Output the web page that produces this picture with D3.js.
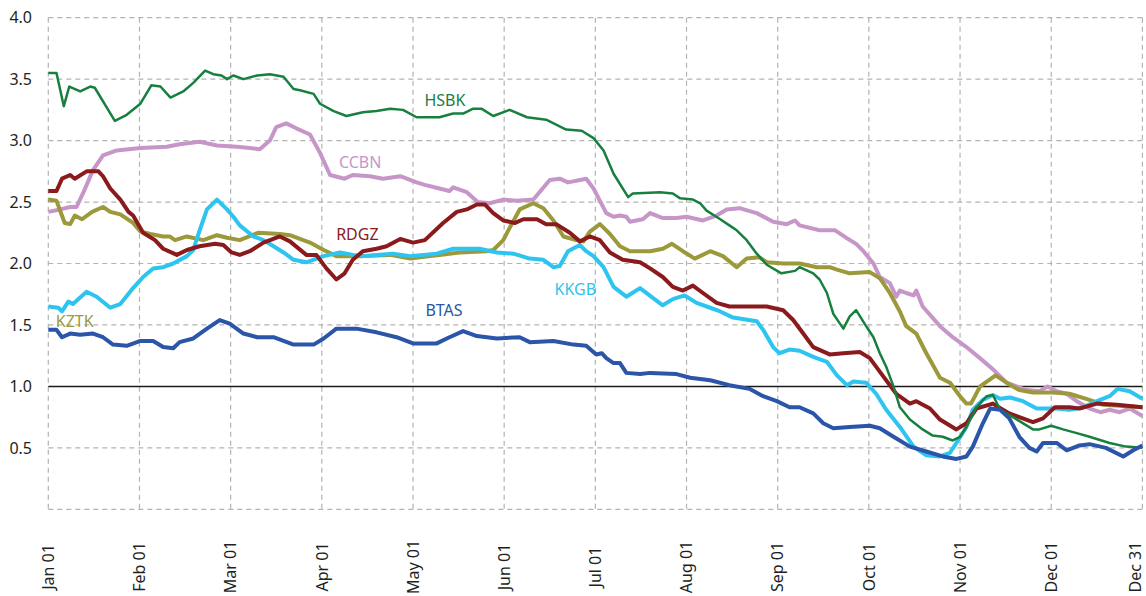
<!DOCTYPE html>
<html>
<head>
	<meta charset="utf-8">
	<title>Bank ratios</title>
	<script src="https://d3js.org/d3.v7.min.js"></script>
	<style>
		body { margin: 0; background: #fff; }
		text { font-family: "Noto Sans", "Open Sans", sans-serif; }
	</style>
</head>
<body>
<div id="chart"></div>
<script>
	var w = 1146;
	var h = 596;

	// x positions are in months from Jan 01 (0) to Dec 31 (12)
	var monthLabels = ["Jan 01","Feb 01","Mar 01","Apr 01","May 01","Jun 01","Jul 01",
		"Aug 01","Sep 01","Oct 01","Nov 01","Dec 01","Dec 31"];
	var yTicks = [0.5, 1.0, 1.5, 2.0, 2.5, 3.0, 3.5, 4.0];

	var hsbk = [[0,3.55],[0.09,3.55],[0.17,3.28],[0.23,3.44],[0.35,3.40],[0.46,3.44],[0.51,3.43],
		[0.73,3.16],[0.86,3.21],[1.01,3.30],[1.13,3.45],[1.23,3.44],[1.34,3.35],[1.48,3.40],[1.59,3.47],
		[1.72,3.57],[1.81,3.54],[1.90,3.53],[1.96,3.50],[2.03,3.53],[2.14,3.50],[2.29,3.53],[2.43,3.54],
		[2.58,3.52],[2.69,3.42],[2.76,3.41],[2.91,3.38],[2.98,3.30],[3.13,3.24],[3.27,3.20],[3.45,3.23],
		[3.60,3.24],[3.75,3.26],[3.89,3.25],[4.04,3.19],[4.29,3.19],[4.44,3.22],[4.55,3.22],[4.66,3.26],
		[4.75,3.26],[4.88,3.20],[5.06,3.25],[5.25,3.19],[5.46,3.17],[5.68,3.09],[5.85,3.08],[5.98,3.02],
		[6.09,2.92],[6.20,2.73],[6.36,2.54],[6.41,2.57],[6.71,2.58],[6.85,2.57],[6.93,2.53],[7.07,2.52],
		[7.15,2.49],[7.22,2.43],[7.37,2.36],[7.47,2.31],[7.55,2.27],[7.66,2.19],[7.77,2.08],[7.88,1.99],
		[8.04,1.92],[8.19,1.94],[8.24,1.97],[8.39,1.92],[8.46,1.87],[8.54,1.76],[8.61,1.59],[8.72,1.47],
		[8.79,1.57],[8.86,1.62],[8.97,1.49],[9.05,1.40],[9.12,1.27],[9.19,1.16],[9.27,1.00],[9.34,0.83],
		[9.45,0.73],[9.59,0.65],[9.70,0.60],[9.81,0.59],[9.92,0.56],[10.00,0.59],[10.07,0.67],[10.18,0.83],
		[10.29,0.92],[10.36,0.93],[10.44,0.81],[10.58,0.75],[10.80,0.65],[10.87,0.65],[11.00,0.68],
		[11.13,0.65],[11.28,0.62],[11.42,0.59],[11.64,0.54],[11.82,0.51],[12,0.50]];

	var ccbn = [[0,2.42],[0.13,2.44],[0.24,2.46],[0.31,2.46],[0.38,2.57],[0.49,2.76],[0.60,2.88],
		[0.75,2.92],[1.01,2.94],[1.30,2.95],[1.44,2.97],[1.66,2.99],[1.85,2.96],[2.07,2.95],[2.21,2.94],
		[2.32,2.93],[2.43,3.00],[2.50,3.11],[2.61,3.14],[2.72,3.10],[2.87,3.05],[2.98,2.90],[3.09,2.72],
		[3.25,2.69],[3.34,2.72],[3.53,2.71],[3.67,2.69],[3.86,2.71],[4.04,2.66],[4.13,2.64],[4.29,2.61],
		[4.40,2.59],[4.44,2.62],[4.59,2.58],[4.71,2.50],[4.84,2.49],[4.99,2.52],[5.14,2.51],[5.32,2.52],
		[5.50,2.68],[5.61,2.69],[5.70,2.66],[5.90,2.69],[5.98,2.61],[6.12,2.41],[6.20,2.38],[6.27,2.39],
		[6.34,2.38],[6.38,2.34],[6.52,2.36],[6.60,2.41],[6.74,2.37],[6.89,2.37],[7.00,2.38],[7.18,2.35],
		[7.33,2.39],[7.44,2.44],[7.58,2.45],[7.77,2.41],[7.95,2.34],[8.10,2.32],[8.19,2.35],[8.24,2.31],
		[8.46,2.27],[8.63,2.27],[8.75,2.21],[8.86,2.16],[8.94,2.10],[9.05,2.00],[9.12,1.89],[9.23,1.84],
		[9.30,1.73],[9.34,1.78],[9.41,1.76],[9.49,1.74],[9.52,1.78],[9.59,1.65],[9.78,1.49],[9.92,1.40],
		[10.07,1.32],[10.25,1.21],[10.36,1.14],[10.51,1.03],[10.73,0.97],[10.87,0.96],[10.96,1.00],
		[11.06,0.96],[11.17,0.94],[11.28,0.88],[11.42,0.82],[11.54,0.79],[11.64,0.81],[11.75,0.79],
		[11.86,0.82],[12,0.76]];

	var rdgz = [[0,2.59],[0.09,2.59],[0.15,2.69],[0.24,2.72],[0.29,2.69],[0.42,2.75],[0.55,2.75],
		[0.60,2.71],[0.68,2.61],[0.79,2.52],[0.88,2.42],[0.93,2.39],[1.04,2.25],[1.17,2.19],[1.26,2.12],
		[1.41,2.07],[1.52,2.11],[1.66,2.14],[1.83,2.16],[1.92,2.15],[2.01,2.09],[2.10,2.07],[2.21,2.10],
		[2.36,2.17],[2.54,2.22],[2.65,2.18],[2.83,2.07],[2.94,2.07],[3.05,1.96],[3.16,1.87],[3.25,1.92],
		[3.34,2.03],[3.45,2.10],[3.60,2.12],[3.71,2.14],[3.86,2.20],[4.00,2.17],[4.13,2.19],[4.33,2.33],
		[4.48,2.42],[4.59,2.44],[4.70,2.48],[4.79,2.48],[4.88,2.41],[4.99,2.35],[5.12,2.33],[5.21,2.36],
		[5.36,2.36],[5.46,2.32],[5.57,2.32],[5.72,2.25],[5.83,2.18],[5.94,2.22],[6.05,2.19],[6.16,2.09],
		[6.30,2.03],[6.49,2.01],[6.60,1.96],[6.74,1.89],[6.85,1.81],[6.96,1.78],[7.07,1.82],[7.18,1.76],
		[7.33,1.68],[7.47,1.65],[7.69,1.65],[7.88,1.65],[8.06,1.62],[8.17,1.54],[8.28,1.43],[8.39,1.32],
		[8.57,1.26],[8.72,1.27],[8.90,1.28],[9.01,1.23],[9.16,1.08],[9.30,0.94],[9.45,0.86],[9.52,0.88],
		[9.67,0.82],[9.78,0.73],[9.96,0.65],[10.07,0.70],[10.18,0.82],[10.36,0.86],[10.54,0.78],
		[10.65,0.75],[10.80,0.71],[10.91,0.74],[11.04,0.83],[11.20,0.83],[11.31,0.82],[11.50,0.86],
		[11.72,0.85],[12,0.83]];

	var kztk = [[0,2.52],[0.09,2.51],[0.18,2.33],[0.24,2.32],[0.29,2.39],[0.37,2.36],[0.48,2.42],
		[0.60,2.46],[0.68,2.42],[0.79,2.40],[0.93,2.33],[1.01,2.26],[1.12,2.24],[1.26,2.22],[1.33,2.22],
		[1.39,2.19],[1.52,2.22],[1.70,2.19],[1.85,2.23],[1.96,2.21],[2.10,2.19],[2.30,2.25],[2.54,2.24],
		[2.65,2.23],[2.87,2.17],[3.02,2.11],[3.16,2.06],[3.45,2.06],[3.75,2.07],[3.97,2.04],[4.19,2.06],
		[4.29,2.07],[4.51,2.09],[4.81,2.10],[4.88,2.11],[4.99,2.19],[5.06,2.29],[5.17,2.44],[5.32,2.49],
		[5.43,2.45],[5.54,2.35],[5.65,2.22],[5.79,2.19],[5.87,2.18],[5.94,2.26],[6.05,2.32],[6.16,2.24],
		[6.27,2.14],[6.38,2.10],[6.60,2.10],[6.74,2.12],[6.84,2.16],[6.96,2.10],[7.09,2.04],[7.26,2.10],
		[7.40,2.06],[7.55,1.97],[7.66,2.04],[7.80,2.05],[7.88,2.01],[8.06,2.00],[8.24,2.00],[8.43,1.97],
		[8.57,1.97],[8.65,1.95],[8.79,1.92],[9.01,1.93],[9.12,1.88],[9.23,1.76],[9.34,1.61],[9.41,1.49],
		[9.52,1.43],[9.63,1.27],[9.78,1.07],[9.89,1.03],[10.00,0.92],[10.07,0.86],[10.12,0.86],
		[10.22,1.00],[10.39,1.09],[10.51,1.03],[10.65,0.97],[10.80,0.95],[11.02,0.95],[11.20,0.94],
		[11.42,0.89],[11.57,0.85],[11.79,0.84],[12,0.83]];

	var kkgb = [[0,1.65],[0.11,1.64],[0.15,1.61],[0.22,1.69],[0.27,1.67],[0.42,1.77],[0.53,1.73],
		[0.68,1.64],[0.79,1.67],[0.93,1.80],[1.04,1.89],[1.15,1.96],[1.26,1.97],[1.37,2.00],[1.52,2.06],
		[1.59,2.11],[1.66,2.27],[1.74,2.44],[1.85,2.52],[1.96,2.44],[2.03,2.38],[2.10,2.31],[2.25,2.22],
		[2.36,2.19],[2.47,2.14],[2.58,2.09],[2.69,2.03],[2.83,2.01],[3.02,2.06],[3.20,2.09],[3.34,2.07],
		[3.45,2.06],[3.60,2.07],[3.78,2.08],[3.97,2.06],[4.26,2.08],[4.44,2.12],[4.73,2.12],[4.92,2.09],
		[5.10,2.08],[5.28,2.04],[5.43,2.03],[5.54,1.97],[5.61,1.98],[5.70,2.10],[5.83,2.15],[5.90,2.10],
		[5.98,2.06],[6.09,1.97],[6.20,1.81],[6.34,1.73],[6.49,1.80],[6.63,1.72],[6.74,1.66],[6.85,1.71],
		[6.98,1.74],[7.11,1.68],[7.26,1.64],[7.37,1.61],[7.51,1.56],[7.77,1.53],[7.84,1.46],[7.95,1.32],
		[8.02,1.27],[8.13,1.30],[8.24,1.29],[8.39,1.24],[8.54,1.20],[8.65,1.09],[8.76,1.01],[8.83,1.04],
		[8.97,1.03],[9.08,0.94],[9.19,0.81],[9.34,0.67],[9.49,0.51],[9.63,0.44],[9.78,0.43],[9.89,0.46],
		[9.96,0.54],[10.07,0.67],[10.14,0.81],[10.25,0.89],[10.36,0.93],[10.44,0.90],[10.55,0.91],
		[10.69,0.88],[10.84,0.82],[11.06,0.82],[11.20,0.81],[11.35,0.83],[11.50,0.88],[11.64,0.92],
		[11.73,0.98],[11.86,0.96],[12,0.90]];

	var btas = [[0,1.46],[0.09,1.46],[0.15,1.40],[0.24,1.43],[0.35,1.42],[0.49,1.43],[0.60,1.40],
		[0.71,1.34],[0.86,1.33],[1.01,1.37],[1.15,1.37],[1.26,1.32],[1.37,1.31],[1.44,1.36],[1.59,1.39],
		[1.74,1.47],[1.88,1.54],[1.99,1.51],[2.14,1.43],[2.29,1.40],[2.47,1.40],[2.69,1.34],[2.91,1.34],
		[3.02,1.39],[3.16,1.47],[3.38,1.47],[3.60,1.44],[3.82,1.40],[4.00,1.35],[4.26,1.35],[4.40,1.40],
		[4.55,1.45],[4.70,1.41],[4.92,1.39],[5.17,1.40],[5.28,1.36],[5.54,1.37],[5.76,1.34],[5.90,1.33],
		[6.01,1.26],[6.07,1.27],[6.12,1.23],[6.20,1.19],[6.27,1.19],[6.34,1.11],[6.49,1.10],[6.60,1.11],
		[6.89,1.10],[7.04,1.07],[7.26,1.05],[7.47,1.01],[7.69,0.98],[7.84,0.92],[7.99,0.88],[8.13,0.83],
		[8.24,0.83],[8.39,0.78],[8.50,0.70],[8.61,0.66],[8.79,0.67],[9.01,0.68],[9.12,0.66],[9.27,0.59],
		[9.45,0.51],[9.63,0.47],[9.81,0.43],[9.96,0.41],[10.07,0.43],[10.14,0.51],[10.25,0.70],
		[10.33,0.82],[10.44,0.81],[10.54,0.74],[10.65,0.59],[10.76,0.50],[10.84,0.47],[10.91,0.54],
		[11.06,0.54],[11.17,0.48],[11.31,0.52],[11.42,0.53],[11.60,0.50],[11.79,0.43],[11.90,0.48],
		[12,0.52]];

	// name, data, colour, line width, label anchor (month, value)
	var series = [
		{name: "CCBN", data: ccbn, color: "#c796c8", width: 4, label: [3.42, 2.78]},
		{name: "KZTK", data: kztk, color: "#9b993a", width: 4, label: [0.29, 1.48]},
		{name: "KKGB", data: kkgb, color: "#2ec4f0", width: 4, label: [5.78, 1.74]},
		{name: "RDGZ", data: rdgz, color: "#8a1a1c", width: 4, label: [3.39, 2.19]},
		{name: "HSBK", data: hsbk, color: "#17803f", width: 2.5, label: [4.35, 3.28]},
		{name: "BTAS", data: btas, color: "#2a55a8", width: 4, label: [4.34, 1.57]}
	];

	var svg = d3.select("#chart")
		.append("svg")
		.attr("width", w)
		.attr("height", h)
		.attr("xmlns", "http://www.w3.org/2000/svg");

	svg.append("rect").attr("width", w).attr("height", h).attr("fill", "white");

	var x = d3.scaleLinear().domain([0, 12]).range([48.3, 1142.4]);
	var y = d3.scaleLinear().domain([0, 4]).range([509.3, 17.7]);

	// grid
	var grid = svg.append("g").attr("class", "grid");
	grid.selectAll(".vgrid")
		.data(d3.range(0, 13))
		.enter().append("line")
		.attr("class", "vgrid")
		.attr("x1", function(d) { return x(d); })
		.attr("x2", function(d) { return x(d); })
		.attr("y1", y(4))
		.attr("y2", y(0))
		.attr("stroke", "#b3b3b3")
		.attr("stroke-width", 1.2)
		.attr("stroke-dasharray", "5,4");

	grid.selectAll(".hgrid")
		.data(d3.range(0, 4.01, 0.5).filter(function(d) { return d !== 1; }))
		.enter().append("line")
		.attr("class", "hgrid")
		.attr("x1", x(0))
		.attr("x2", x(12))
		.attr("y1", function(d) { return y(d); })
		.attr("y2", function(d) { return y(d); })
		.attr("stroke", "#b3b3b3")
		.attr("stroke-width", 1.2)
		.attr("stroke-dasharray", "5,4");

	// y labels
	svg.selectAll(".ylab")
		.data(yTicks)
		.enter().append("text")
		.attr("class", "ylab")
		.attr("x", 32)
		.attr("y", function(d) { return y(d); })
		.attr("dy", "0.36em")
		.attr("text-anchor", "end")
		.attr("font-size", 16)
		.attr("fill", "#231f20")
		.text(function(d) { return d3.format(".1f")(d); });

	// x labels, rotated; last one pulled in so it stays on the page
	svg.selectAll(".xlab")
		.data(monthLabels)
		.enter().append("text")
		.attr("class", "xlab")
		.attr("transform", function(d, i) {
			return "translate(" + Math.min(x(i), w - 10.5) + ",567) rotate(-90)";
		})
		.attr("dy", "0.36em")
		.attr("text-anchor", "middle")
		.attr("font-size", 16)
		.attr("fill", "#231f20")
		.text(function(d) { return d; });

	// the 1.0 line
	svg.append("line")
		.attr("x1", x(0))
		.attr("x2", x(12))
		.attr("y1", y(1))
		.attr("y2", y(1))
		.attr("stroke", "#1a1a1a")
		.attr("stroke-width", 1.5);

	var line = d3.line()
		.x(function(d) { return x(d[0]); })
		.y(function(d) { return y(d[1]); });

	svg.selectAll(".series")
		.data(series)
		.enter().append("path")
		.attr("class", "series")
		.attr("d", function(d) { return line(d.data); })
		.attr("fill", "none")
		.attr("stroke", function(d) { return d.color; })
		.attr("stroke-width", function(d) { return d.width; })
		.attr("stroke-linejoin", "round");

	svg.selectAll(".slab")
		.data(series)
		.enter().append("text")
		.attr("class", "slab")
		.attr("x", function(d) { return x(d.label[0]); })
		.attr("y", function(d) { return y(d.label[1]); })
		.attr("text-anchor", "middle")
		.attr("font-size", 16)
		.attr("fill", function(d) { return d.color; })
		.text(function(d) { return d.name; });
</script>
</body>
</html>
